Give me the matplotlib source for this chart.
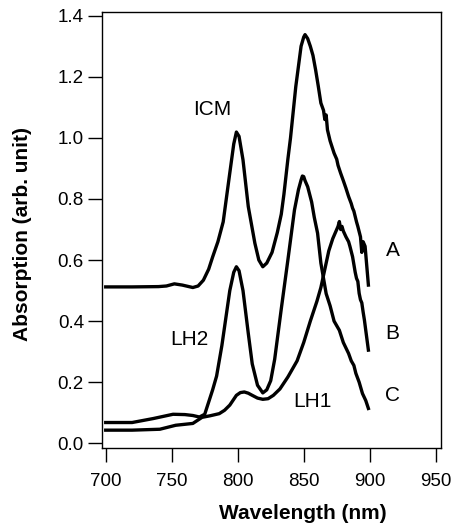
import matplotlib
matplotlib.use('Agg')
import matplotlib.pyplot as plt

plt.rcParams['font.family'] = ['Liberation Sans', 'DejaVu Sans']

# 1. Dados lidos do gráfico
# curva A (ICM)
wl_a = [700, 720, 740, 746, 752, 758, 766, 770, 774, 778, 781, 785, 789, 794, 797,
        799, 801, 804, 808, 813, 816, 819, 822, 826, 830, 833, 835, 838, 840, 844,
        848, 850, 851, 853, 855, 857, 859, 861, 863, 865, 866, 867, 868, 870, 873,
        875, 876, 878, 880, 882, 884, 886, 887, 888, 890, 891, 893, 894, 895, 896.5,
        899]
abs_a = [0.512, 0.512, 0.513, 0.515, 0.522, 0.518, 0.510, 0.515, 0.534, 0.57, 0.61,
         0.66, 0.725, 0.885, 0.98, 1.019, 1.005, 0.928, 0.775, 0.655, 0.60, 0.578,
         0.59, 0.625, 0.69, 0.75, 0.815, 0.93, 1.0, 1.168, 1.30, 1.33, 1.338, 1.325,
         1.30, 1.27, 1.223, 1.17, 1.114, 1.09, 1.06, 1.075, 1.026, 0.99, 0.95, 0.93,
         0.91, 0.884, 0.86, 0.835, 0.808, 0.785, 0.77, 0.76, 0.725, 0.71, 0.676,
         0.625, 0.66, 0.645, 0.518]

# curva B (LH2)
wl_b = [700, 720, 736, 751, 760, 766, 771, 775, 778, 781, 784, 788, 791, 794, 797,
        799, 801, 804, 808, 811, 815, 819, 822, 825, 828, 833, 838, 843, 846, 848,
        849, 850, 851, 853, 856, 858, 860.5, 863, 865, 867, 870, 873, 877, 880, 884,
        886, 888, 889.5, 892, 894.5, 897, 899]
abs_b = [0.068, 0.068, 0.081, 0.095, 0.094, 0.091, 0.086, 0.095, 0.135, 0.175, 0.22,
         0.32, 0.41, 0.50, 0.56, 0.578, 0.565, 0.50, 0.36, 0.26, 0.19, 0.165, 0.175,
         0.205, 0.275, 0.44, 0.60, 0.764, 0.83, 0.862, 0.875, 0.873, 0.86, 0.84, 0.79,
         0.74, 0.688, 0.59, 0.54, 0.49, 0.45, 0.40, 0.37, 0.33, 0.294, 0.27, 0.255,
         0.229, 0.20, 0.163, 0.14, 0.114]

# curva C (LH1)
wl_c = [700, 720, 741, 753, 766, 773, 779, 786, 790, 794, 799, 802, 805, 808, 811,
        815, 819, 823, 827, 832, 838, 845, 850, 855, 860, 863, 865, 869, 872, 874,
        875, 876, 877, 878, 879, 880, 882, 884, 885, 887, 889, 890, 891, 892, 893,
        894, 895, 896, 897, 899]
abs_c = [0.043, 0.043, 0.046, 0.059, 0.065, 0.085, 0.09, 0.097, 0.108, 0.125, 0.157,
         0.166, 0.168, 0.164, 0.157, 0.148, 0.144, 0.146, 0.157, 0.178, 0.217, 0.27,
         0.33, 0.40, 0.465, 0.51, 0.55, 0.63, 0.670, 0.69, 0.70, 0.71, 0.726, 0.70,
         0.71, 0.695, 0.676, 0.66, 0.645, 0.611, 0.56, 0.54, 0.53, 0.491, 0.47, 0.46,
         0.43, 0.403, 0.37, 0.305]

x_ticks = [700, 750, 800, 850, 900, 950]
y_ticks = [0.0, 0.2, 0.4, 0.6, 0.8, 1.0, 1.2, 1.4]

# 2. Figura
fig = plt.figure(figsize=(4.53, 5.25), dpi=100)
ax = fig.add_axes([0.2252, 0.1461, 0.7483, 0.831])

for wl, ab in [(wl_a, abs_a), (wl_b, abs_b), (wl_c, abs_c)]:
    ax.plot(wl, ab, color='black', linewidth=2.4, solid_joinstyle='round')

# 3. Rótulos das curvas
ax.text(780.7, 1.093, 'ICM', fontsize=15, ha='center', va='center')
ax.text(763.4, 0.339, 'LH2', fontsize=15, ha='center', va='center')
ax.text(856.4, 0.136, 'LH1', fontsize=15, ha='center', va='center')
ax.text(917.3, 0.631, 'A', fontsize=15, ha='center', va='center')
ax.text(917.3, 0.358, 'B', fontsize=15, ha='center', va='center')
ax.text(917.3, 0.156, 'C', fontsize=15, ha='center', va='center')

# 4. Eixos
ax.set_xlim(697.2, 954)
ax.set_ylim(-0.0164, 1.412)
ax.set_xticks(x_ticks)
ax.set_yticks(y_ticks)
ax.set_yticklabels([f'{v:.1f}' for v in y_ticks])
ax.tick_params(axis='both', direction='out', length=10, width=1, labelsize=13.5)
ax.tick_params(axis='x', pad=8)
ax.tick_params(axis='y', pad=3)
for s in ax.spines.values():
    s.set_linewidth(1)

ax.set_xlabel('Wavelength (nm)', fontsize=15, fontweight='bold')
ax.set_ylabel('Absorption (arb. unit)', fontsize=15, fontweight='bold')
ax.xaxis.set_label_coords(0.593, -0.128)
ax.yaxis.set_label_coords(-0.206, 0.491)

plt.savefig('out.png', dpi=100)
